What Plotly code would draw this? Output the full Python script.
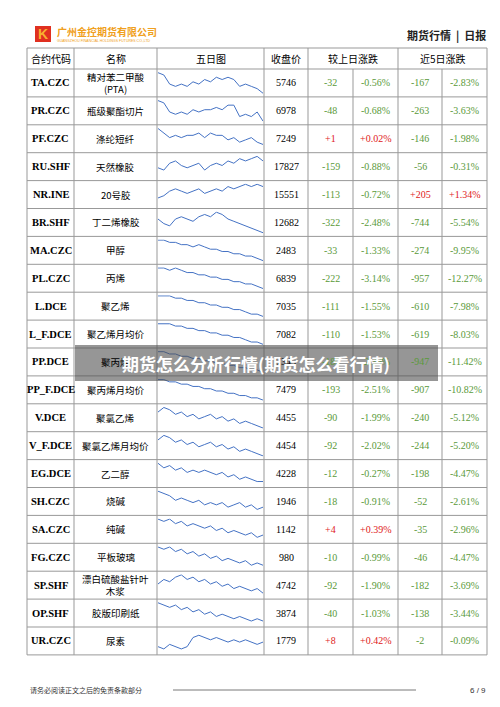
import plotly.graph_objects as go

codes = ["TA.CZC","PR.CZC","PF.CZC","RU.SHF","NR.INE","BR.SHF","MA.CZC","PL.CZC","L.DCE","L_F.DCE","PP.DCE",
         "PP_F.DCE","V.DCE","V_F.DCE","EG.DCE","SH.CZC","SA.CZC","FG.CZC","SP.SHF","OP.SHF","UR.CZC"]
names = ["精对苯二甲酸<br>(PTA)","瓶级聚酯切片","涤纶短纤","天然橡胶","20号胶","丁二烯橡胶","甲醇","丙烯","聚乙烯","聚乙烯月均价","聚丙烯",
         "聚丙烯月均价","聚氯乙烯","聚氯乙烯月均价","乙二醇","烧碱","纯碱","平板玻璃","漂白硫酸盐针叶<br>木浆","胶版印刷纸","尿素"]
close = [5746,6978,7249,17827,15551,12682,2483,6839,7035,7082,7345,7479,4455,4454,4228,1946,1142,980,4742,3874,1779]
chg1 = [-32,-48,1,-159,-113,-322,-33,-222,-111,-110,-180,-193,-90,-92,-12,-18,4,-10,-92,-40,8]
pct1 = [-0.56,-0.68,0.02,-0.88,-0.72,-2.48,-1.33,-3.14,-1.55,-1.53,-2.39,-2.51,-1.99,-2.02,-0.27,-0.91,0.39,-0.99,-1.90,-1.03,0.42]
chg5 = [-167,-263,-146,-56,205,-744,-274,-957,-610,-619,-947,-907,-240,-244,-198,-52,-35,-46,-182,-138,-2]
pct5 = [-2.83,-3.63,-1.98,-0.31,1.34,-5.54,-9.95,-12.27,-7.98,-8.03,-11.42,-10.82,-5.12,-5.20,-4.47,-2.61,-2.96,-4.47,-3.69,-3.44,-0.09]
headers = ["合约代码","名称","五日图","收盘价","较上日涨跌","近5日涨跌"]

spark = [
 [9,8,4,3,4,3,5,4,6,5,7,6,7,6,3,4,3,2,0],
 [9,8,4,3,4,3,5,4,5,5,6,5,7,7,2,3,2,4,0],
 [9,7,5,6,5,6,6,7,5,7,6,6,4,5,3,4,5,3,2],
 [4,3,6,7,5,4,5,6,3,5,6,5,7,6,8,7,8,9,7],
 [3,4,6,7,6,5,6,7,5,6,7,6,8,7,8,9,8,9,8],
 [6,4,3,6,7,6,5,7,8,7,9,8,6,5,4,3,2,1,0],
 [9,9,8,8,7,7,6,7,6,5,5,4,4,3,3,2,2,1,0],
 [9,9,8,9,8,7,7,6,6,5,5,4,4,3,3,2,2,1,0],
 [9,9,9,8,8,7,7,6,6,5,5,4,4,3,3,2,1,1,0],
 [9,9,9,8,8,7,7,6,6,5,5,4,4,3,3,2,1,1,0],
 [9,9,8,8,7,7,6,6,5,5,4,4,3,3,2,2,1,1,0],
 [9,9,8,8,7,7,6,6,5,5,4,4,3,3,2,2,1,1,0],
 [7,9,8,6,7,5,6,4,5,6,4,5,3,4,2,3,2,1,0],
 [7,9,8,6,7,5,6,4,5,6,4,5,3,4,2,3,2,1,0],
 [9,7,8,6,7,5,6,5,6,5,4,5,3,4,2,3,2,1,1],
 [9,8,7,5,6,5,4,5,3,4,3,4,2,3,4,2,3,1,2],
 [9,8,9,7,8,6,7,6,5,6,4,5,3,4,3,2,3,1,2],
 [9,8,9,7,8,6,7,5,6,4,5,3,4,3,2,3,1,2,1],
 [5,7,6,8,9,7,8,6,7,5,6,4,5,3,4,3,2,3,1],
 [9,8,7,8,6,7,5,6,4,5,3,4,3,2,3,2,1,2,1],
 [2,1,3,2,1,2,6,7,6,5,6,5,4,5,4,5,4,3,4],
]

W, H = 500, 707
GREEN, RED = "#5a9a3a", "#e02020"
def col(v): return RED if v > 0 else GREEN
def fmt_c(v): return f"+{v}" if v > 0 else f"{v}"
def fmt_p(v): return f"+{v:.2f}%" if v > 0 else f"{v:.2f}%"

xb = [19, 66, 149, 256, 300, 345, 390, 434, 479]
top, hh, rh = 40, 21, 27.9
n = len(codes)
bottom = top + hh + n*rh
SERIF = "Liberation Serif"
CJK = "Noto Sans CJK SC"

fig = go.Figure()
fig.add_trace(go.Scatter(x=[0, W], y=[0, H], mode="markers", marker=dict(opacity=0), hoverinfo="skip", showlegend=False))
ann = []
def txt(x, y, t, size=10, color="black", family=SERIF, xa="center"):
    ann.append(dict(x=x, y=y, xref="x", yref="y", text=t, showarrow=False, xanchor=xa,
                    font=dict(size=size, color=color, family=family)))

shapes = []
LC = "#999"
for yv in [top, top + hh] + [top + hh + (i+1)*rh for i in range(n)]:
    shapes.append(dict(type="line", xref="x", yref="y", x0=xb[0], x1=xb[-1], y0=yv, y1=yv, line=dict(color=LC, width=1)))
for j, xv in enumerate(xb):
    y0 = top + hh if j in (5, 7) else top
    shapes.append(dict(type="line", xref="x", yref="y", x0=xv, x1=xv, y0=y0, y1=bottom, line=dict(color=LC, width=1)))

hc = [(xb[0]+xb[1])/2, (xb[1]+xb[2])/2, (xb[2]+xb[3])/2, (xb[3]+xb[4])/2, (xb[4]+xb[6])/2, (xb[6]+xb[8])/2]
for x, h in zip(hc, headers):
    txt(x, top + hh/2, h, size=10, family=CJK)

cx = [(xb[i]+xb[i+1])/2 for i in range(8)]
for i in range(n):
    yc = top + hh + (i+0.5)*rh
    txt(cx[0], yc, f"<b>{codes[i]}</b>", size=10.5)
    txt(cx[1], yc, names[i], size=9.5, family=CJK)
    txt(cx[3], yc, str(close[i]), size=10)
    txt(cx[4], yc, fmt_c(chg1[i]), size=10, color=col(chg1[i]))
    txt(cx[5], yc, fmt_p(pct1[i]), size=10, color=col(pct1[i]))
    txt(cx[6], yc, fmt_c(chg5[i]), size=10, color=col(chg5[i]))
    txt(cx[7], yc, fmt_p(pct5[i]), size=10, color=col(pct5[i]))

layout = {}
for i, s in enumerate(spark):
    k = str(i+2)
    y0 = top + hh + (i+1)*rh - 3
    y1 = top + hh + i*rh + 3
    layout[f"xaxis{k}"] = dict(domain=[(xb[2]+1)/W, (xb[3]-1)/W], visible=False, anchor=f"y{k}")
    layout[f"yaxis{k}"] = dict(domain=[1-y0/H, 1-y1/H], visible=False, anchor=f"x{k}", range=[-0.3, 9.3])
    fig.add_trace(go.Scatter(y=s, mode="lines", line=dict(color="#4472c4", width=1),
                             xaxis=f"x{k}", yaxis=f"y{k}", showlegend=False, hoverinfo="skip"))

shapes.append(dict(type="rect", xref="x", yref="y", x0=27, x1=43, y0=18, y1=34, fillcolor="#e03020", line_width=0))
txt(35, 26, "<b>K</b>", size=14, color="#f8b030", family="Liberation Sans")
txt(47, 23, "<b>广州金控期货有限公司</b>", size=10, color="#f0a020", family=CJK, xa="left")
txt(47, 33, "GUANGZHOU FINANCIAL HOLDINGS FUTURES CO.,LTD", size=3.5, color="#f0a020", family="Liberation Sans", xa="left")
txt(480, 27, "<b>期货行情  |  日报</b>", size=11, color="#222", family=CJK, xa="right")

shapes.append(dict(type="rect", xref="x", yref="y", x0=67, x1=430, y0=337, y1=373, fillcolor="rgba(80,80,80,0.6)", line_width=0))
txt(248, 355, "<b>期货怎么分析行情(期货怎么看行情)</b>", size=17, color="white", family=CJK)

txt(20, 682, "请务必阅读正文之后的免责条款部分", size=7, color="#333", family=CJK, xa="left")
shapes.append(dict(type="line", xref="x", yref="y", x0=165, x1=408, y0=682, y1=682, line=dict(color="#555", width=0.8)))
txt(480, 682, "6 / 9", size=8, color="#333", family="Liberation Sans", xa="right")

fig.update_layout(**layout)
fig.update_layout(width=W, height=H, margin=dict(l=0, r=0, t=0, b=0),
                  paper_bgcolor="white", plot_bgcolor="white", annotations=ann, shapes=shapes,
                  xaxis=dict(range=[0, W], visible=False, domain=[0, 1]),
                  yaxis=dict(range=[H, 0], visible=False, domain=[0, 1]))
fig.write_html("out.html")
